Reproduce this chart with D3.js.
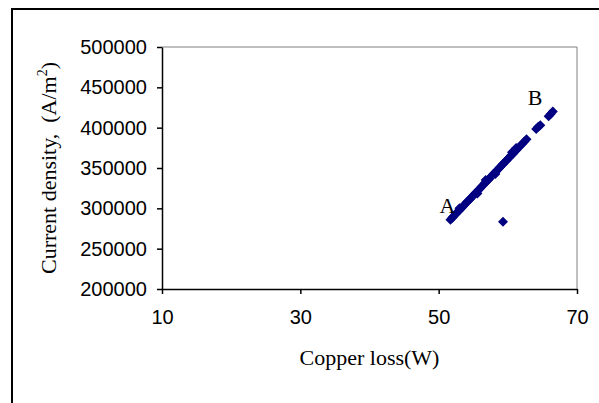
<!DOCTYPE html>
<html><head><meta charset="utf-8">
<script src="https://cdn.jsdelivr.net/npm/d3@7/dist/d3.min.js"></script>
<style>body{margin:0;background:#fff;}svg{display:block;}</style>
</head><body>
<svg id="c" width="599" height="403"></svg>
<script>
const xTicks = [10, 30, 50, 70];
const yTicks = [200000, 250000, 300000, 350000, 400000, 450000, 500000];
const copperLoss = [51.7,51.9,52.1,52.3,52.5,52.7,52.9,53.0,53.1,53.3,53.5,53.7,53.9,54.1,54.3,54.5,54.7,54.9,55.1,55.3,55.5,55.6,55.7,55.9,56.1,56.3,56.5,56.7,56.8,56.9,57.1,57.3,57.5,57.7,57.9,58.1,58.2,58.3,58.5,58.7,58.9,59.1,59.3,59.5,59.7,59.9,60.1,60.3,60.5,60.6,60.7,60.9,61.1,61.2,61.3,61.5,61.8,62.1,62.4,62.7,64.1,64.4,64.7,65.9,66.2,66.5,59.3];
const currentDensity = [286000,287800,289600,291500,293200,295100,296900,300000,298700,300500,302300,304100,305900,307800,309600,311400,313200,315000,316800,318600,320400,318500,322200,324100,325900,327700,329500,331300,335000,333100,334900,336700,338600,340400,342200,344000,342500,345800,347600,349400,351200,353000,354900,356700,358500,360300,362100,363900,365700,369500,367500,369300,371200,374800,373000,374800,377500,380200,382900,385600,398500,401000,403000,414000,417000,420000,283500];
const pointLabels = [{t:"A", x:51.7, y:286000}, {t:"B", x:66.5, y:420000}];

const svg = d3.select("#c");
const L=162, R=577, T=47, B=289;
const x = d3.scaleLinear().domain([10,70]).range([L,R]);
const y = d3.scaleLinear().domain([200000,500000]).range([B,T]);

// outer frame
svg.append("path").attr("d","M12,405V9H602").attr("fill","none").attr("stroke","#000").attr("stroke-width",2);

// plot area border (top/right grey)
svg.append("path").attr("d",`M${L},${T}H${R}V${B}`).attr("fill","none").attr("stroke","#808080").attr("stroke-width",1);

const sans = "'Liberation Sans', Arial, sans-serif";
const serif = "'Liberation Serif', 'Times New Roman', serif";

const xa = svg.append("g").attr("transform",`translate(0,${B})`)
  .call(d3.axisBottom(x).tickValues(xTicks).tickSize(5).tickPadding(16).tickSizeOuter(0));
const ya = svg.append("g").attr("transform",`translate(${L},0)`)
  .call(d3.axisLeft(y).tickValues(yTicks).tickSize(5).tickPadding(10).tickSizeOuter(0).tickFormat(d3.format("d")));
[xa,ya].forEach(a=>{
  a.selectAll("path,line").attr("stroke","#000").attr("stroke-width",1.5);
  a.selectAll("text").attr("font-family",sans).attr("font-size",20).attr("fill","#000");
});

// points
svg.append("g").selectAll("path").data(copperLoss.map((v,i)=>[v,currentDensity[i]]))
  .join("path")
  .attr("d","M0,-5L5,0L0,5L-5,0Z")
  .attr("transform",d=>`translate(${x(d[0])},${y(d[1])})`)
  .attr("fill","#000080");

// labels A, B
svg.append("text").attr("x",x(pointLabels[0].x)-11).attr("y",y(pointLabels[0].y)-7)
  .attr("font-family",serif).attr("font-size",22).text(pointLabels[0].t);
svg.append("text").attr("x",x(pointLabels[1].x)-25).attr("y",y(pointLabels[1].y)-7)
  .attr("font-family",serif).attr("font-size",22).text(pointLabels[1].t);

// axis titles
svg.append("text").attr("x",(L+R)/2).attr("y",365).attr("text-anchor","middle")
  .attr("font-family",serif).attr("font-size",22).text("Copper loss(W)");
const yt = svg.append("text").attr("transform",`translate(56,${(T+B)/2}) rotate(-90)`)
  .attr("text-anchor","middle").attr("font-family",serif).attr("font-size",22);
yt.append("tspan").text("Current density,\u00a0\u00a0(A/m");
yt.append("tspan").attr("font-size",14).attr("dy",-9).text("2");
yt.append("tspan").attr("dy",9).text(")");
</script>
</body></html>
